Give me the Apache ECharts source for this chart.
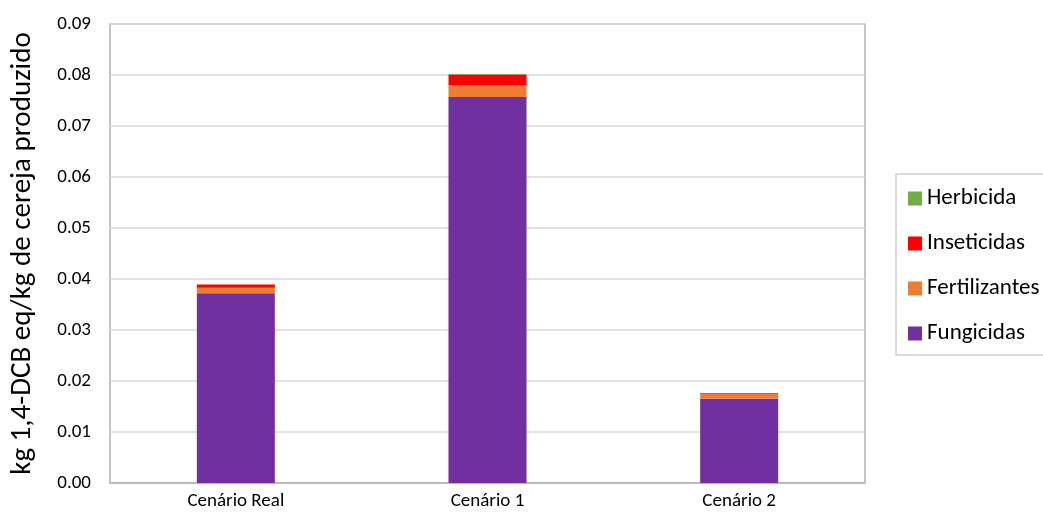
<!DOCTYPE html>
<html>
<head>
<meta charset="utf-8">
<script src="https://cdn.jsdelivr.net/npm/echarts@6/dist/echarts.min.js"></script>
<style>html,body{margin:0;padding:0;background:#fff}#c{width:1043px;height:523px}</style>
</head>
<body>
<div id="c"></div>
<script>
const categories = ['Cenário Real', 'Cenário 1', 'Cenário 2'];
const fungicidas = [0.0372, 0.0757, 0.0165];
const fertilizantes = [0.0011, 0.0023, 0.0009];
const inseticidas = [0.0006, 0.0021, 0.0002];
const herbicida = [0.00003, 0.00008, 0.00002];
const yAxisName = 'kg 1,4-DCB eq/kg de cereja produzido';

const font = 'Carlito, Lato, "Open Sans", sans-serif';
const chart = echarts.init(document.getElementById('c'));
function s(name, data, color) {
  return { name, type: 'bar', stack: 'total', data, barWidth: '31%',
    itemStyle: { color }, emphasis: { disabled: true } };
}
chart.setOption({
  animation: false,
  textStyle: { fontFamily: font },
  grid: { left: 109, right: 178, top: 24, bottom: 40, show: true, borderColor: '#b3b3b3', borderWidth: 1.5 },
  legend: {
    orient: 'vertical', left: 896, top: 174,
    data: ['Herbicida', 'Inseticidas', 'Fertilizantes', 'Fungicidas'],
    itemWidth: 14, itemHeight: 14, itemGap: 22,
    icon: 'rect',
    padding: [13, 40, 10, 12],
    borderColor: '#d0d0d0', borderWidth: 1.5, backgroundColor: '#fff',
    textStyle: { fontSize: 23, color: '#000', fontFamily: font, padding: [0, 0, 0, 0] }
  },
  xAxis: {
    type: 'category', data: categories,
    axisTick: { show: false },
    axisLine: { lineStyle: { color: '#b3b3b3', width: 1.5 } },
    axisLabel: { fontSize: 19, color: '#000', margin: 9, fontFamily: font }
  },
  yAxis: {
    type: 'value', min: 0, max: 0.09, interval: 0.01,
    name: yAxisName, nameLocation: 'middle', nameGap: 73, nameRotate: 90,
    nameTextStyle: { fontSize: 29, color: '#000', fontFamily: font },
    axisLabel: { fontSize: 19, color: '#000', margin: 19, fontFamily: font, formatter: v => v.toFixed(2) },
    splitLine: { lineStyle: { color: '#d9d9d9', width: 1.5 } },
    axisLine: { show: false }
  },
  series: [
    s('Fungicidas', fungicidas, '#7030A0'),
    s('Fertilizantes', fertilizantes, '#ED7D31'),
    s('Inseticidas', inseticidas, '#FF0000'),
    s('Herbicida', herbicida, '#70AD47')
  ]
});
</script>
</body>
</html>
